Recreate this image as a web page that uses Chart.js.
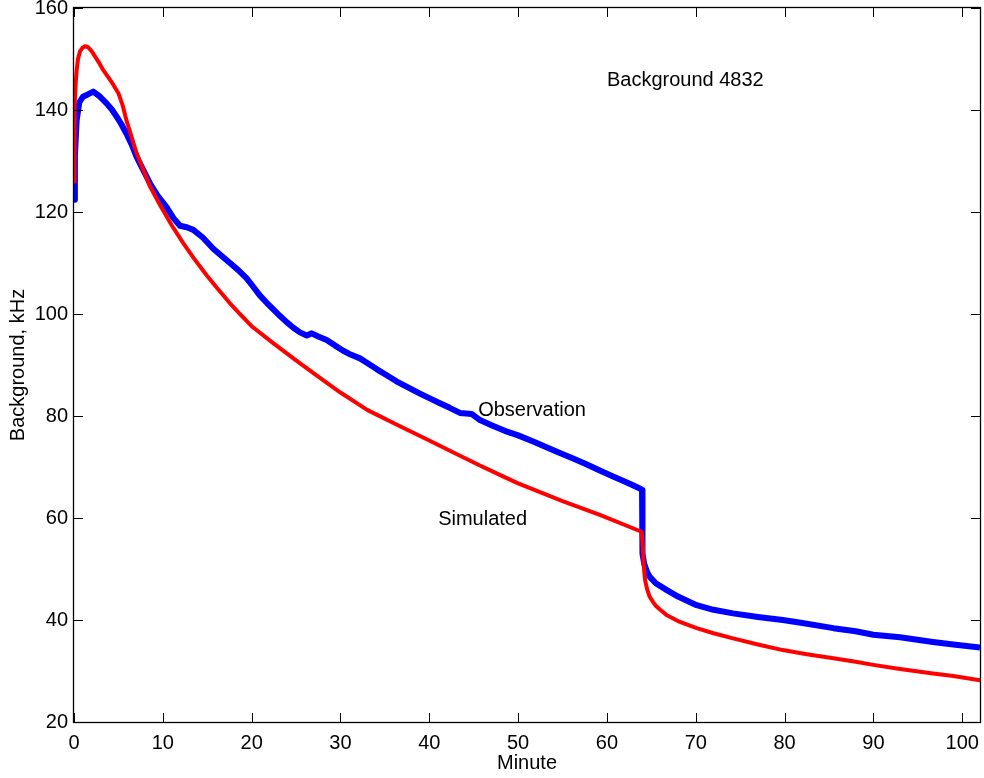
<!DOCTYPE html>
<html>
<head>
<meta charset="utf-8">
<script src="https://cdn.jsdelivr.net/npm/chart.js@4"></script>
<style>body{margin:0;background:#fff}</style>
</head>
<body>
<canvas id="chart" width="984" height="778"></canvas>
<script>
// observation (blue)
let obsMinute = [0, 0.1, 0.3, 0.6, 1, 1.5, 2.17, 2.8, 3.67, 4.3, 4.8, 5.3, 5.9, 6.5, 7.05, 7.8, 8.56, 9.4, 10.4,
  11.2, 11.93, 12.7, 13.43, 14.5, 15.68, 16.6, 17.56, 18.5, 19.44, 20.2, 20.94, 21.7, 22.44, 23.2, 23.94, 24.7, 25.44,
  26.2, 26.76, 27.5, 28.45, 29.4, 30.32, 31.2, 32.2, 33.1, 34.07, 35.2, 36.3, 37.6, 38.95, 40, 41.2, 42.3, 43.45, 44.77,
  45.7, 47, 48.5, 50, 51.7, 53, 54.5, 56, 57.5, 59.2, 60.5, 61.8, 62.8, 63.7, 63.95, 64.0, 64.2, 64.5, 64.8,
  65.5, 66.7, 68, 70.1, 72, 74.2, 77, 79.8, 82, 85.5, 88, 90, 93, 96.7, 99, 102]
let obsKHz = [122.4, 131, 138, 141.5, 142.6, 143, 143.6, 142.8, 141.3, 140, 138.7, 137.3, 135.4, 133.2, 130.8, 128.2, 125.6, 123.2, 121,
  118.8, 117.3, 117, 116.5, 115, 112.8, 111.4, 110, 108.6, 107, 105.3, 103.6, 102.2, 100.9, 99.6, 98.4, 97.3, 96.4,
  95.8, 96.2, 95.6, 94.9, 93.8, 92.8, 92, 91.3, 90.3, 89.2, 88, 86.8, 85.6, 84.4, 83.5, 82.5, 81.6, 80.6, 80.4,
  79.2, 78.2, 77.1, 76.2, 75, 74, 72.9, 71.8, 70.7, 69.3, 68.3, 67.3, 66.5, 65.8, 65.5, 53, 51, 49.5, 48.5,
  47.2, 45.9, 44.6, 42.9, 42, 41.3, 40.6, 40, 39.4, 38.4, 37.8, 37.1, 36.6, 35.7, 35.2, 34.6]

// simulated (red)
let simMinute = [0, 0.05, 0.1, 0.2, 0.3, 0.45, 0.68, 0.95, 1.24, 1.6, 2, 2.74, 3.3, 4.3, 5, 5.5, 5.9, 7.05, 8.56, 9.7, 11, 12.3,
  13.5, 14.93, 16.2, 17.56, 18.8, 20, 22.5, 25, 27.5, 30, 33, 36.7, 40, 43, 45.7, 48, 50, 55, 59.2, 63.9, 64.05, 64.1, 64.2, 64.3, 64.5, 64.8, 65.2, 65.5, 66,
  66.7, 68, 70.1, 72, 74.2, 77, 79.8, 82.5, 85.5, 88, 90, 93, 96.7, 99, 102]
let simKHz = [126, 135, 141, 145.5, 147.8, 150, 151.5, 152.2, 152.5, 152.3, 151.5, 149.5, 147.8, 145.3, 143.3, 140.8, 138, 131.5, 125, 121.3, 117.4, 113.9,
  110.9, 107.6, 104.9, 102.1, 99.8, 97.6, 94.2, 90.9, 87.7, 84.6, 81.2, 78, 75.2, 72.6, 70.3, 68.4, 66.8, 63.3, 60.6, 57.3, 54.5, 51.8, 49.5, 47.8, 46.2, 44.6, 43.5, 42.8, 42,
  41, 39.8, 38.4, 37.4, 36.4, 35.2, 34.1, 33.3, 32.5, 31.8, 31.2, 30.4, 29.5, 29, 28.2]

let xTicks = [0, 10, 20, 30, 40, 50, 60, 70, 80, 90, 100]
let yTicks = [20, 40, 60, 80, 100, 120, 140, 160]

let noteText = ['Background 4832', 'Observation', 'Simulated']
let noteMinute = [60, 45.5, 41]
let noteKHz = [145.7, 81, 59.8]

const FONT = {family: "'Liberation Sans', Arial, Helvetica, sans-serif", size: 20}

function pairs(xs, ys){
  return xs.map((x, i) => ({x: x, y: ys[i]}))
}

//khung và vạch chia hướng vào trong
let frame = {
  id: 'frame',
  afterDatasetsDraw(chart){
    let {ctx, chartArea: a, scales: {x, y}} = chart
    ctx.save()
    ctx.strokeStyle = '#000'
    ctx.lineWidth = 1
    ctx.beginPath()
    for (const v of xTicks){
      let px = Math.round(x.getPixelForValue(v)) + 0.5
      ctx.moveTo(px, a.bottom); ctx.lineTo(px, a.bottom - 9)
      ctx.moveTo(px, a.top); ctx.lineTo(px, a.top + 9)
    }
    for (const v of yTicks){
      let py = Math.round(y.getPixelForValue(v)) + 0.5
      ctx.moveTo(a.left, py); ctx.lineTo(a.left + 9, py)
      ctx.moveTo(a.right, py); ctx.lineTo(a.right - 9, py)
    }
    ctx.stroke()
    ctx.lineWidth = 1.3
    ctx.strokeRect(Math.round(a.left) - 0.5, Math.round(a.top) - 0.5, Math.round(a.width) + 1, Math.round(a.height) + 1)

    ctx.fillStyle = '#000'
    ctx.font = `${FONT.size}px ${FONT.family}`
    ctx.textAlign = 'left'
    ctx.textBaseline = 'middle'
    noteText.forEach((t, i) => {
      ctx.fillText(t, x.getPixelForValue(noteMinute[i]), y.getPixelForValue(noteKHz[i]))
    })
    ctx.restore()
  }
}

new Chart(document.getElementById('chart'), {
  type: 'line',
  data: {
    datasets: [
      {label: 'Simulated', data: pairs(simMinute, simKHz), borderColor: '#ff0000', borderWidth: 4},
      {label: 'Observation', data: pairs(obsMinute, obsKHz), borderColor: '#0000ff', borderWidth: 6}
    ]
  },
  options: {
    responsive: false,
    animation: false,
    parsing: false,
    layout: {padding: {top: 8, right: 4, left: 0, bottom: 0}},
    elements: {
      point: {radius: 0},
      line: {tension: 0, borderJoinStyle: 'round', borderCapStyle: 'butt'}
    },
    plugins: {legend: {display: false}, tooltip: {enabled: false}},
    scales: {
      x: {
        type: 'linear',
        min: 0,
        max: 102,
        grid: {display: false, drawTicks: false},
        border: {display: false},
        afterBuildTicks: s => { s.ticks = xTicks.map(v => ({value: v})) },
        afterFit: s => { s.height = 56; s.paddingLeft = 0; s.paddingRight = 0 },
        ticks: {color: '#000', font: FONT, padding: 9, maxRotation: 0, autoSkip: false},
        title: {display: true, text: 'Minute', color: '#000', font: FONT, padding: {top: 0, bottom: 3}}
      },
      y: {
        min: 20,
        max: 160,
        grid: {display: false, drawTicks: false},
        border: {display: false},
        afterBuildTicks: s => { s.ticks = yTicks.map(v => ({value: v})) },
        afterFit: s => { s.width = 74; s.paddingTop = 0; s.paddingBottom = 0 },
        ticks: {color: '#000', font: FONT, padding: 6, autoSkip: false},
        title: {display: true, text: 'Background, kHz', color: '#000', font: FONT, padding: {top: 6, bottom: 0}}
      }
    }
  },
  plugins: [frame]
})
</script>
</body>
</html>
